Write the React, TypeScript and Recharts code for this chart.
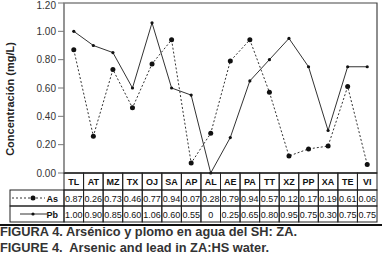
import React from 'react';
import { LineChart, Line, XAxis, YAxis, ReferenceArea } from 'recharts';

const categories = ['TL', 'AT', 'MZ', 'TX', 'OJ', 'SA', 'AP', 'AL', 'AE', 'PA', 'TT', 'XZ', 'PP', 'XA', 'TE', 'VI'];
const asValues = [0.87, 0.26, 0.73, 0.46, 0.77, 0.94, 0.07, 0.28, 0.79, 0.94, 0.57, 0.12, 0.17, 0.19, 0.61, 0.06];
const pbValues = [1.0, 0.9, 0.85, 0.6, 1.06, 0.6, 0.55, 0, 0.25, 0.65, 0.8, 0.95, 0.75, 0.3, 0.75, 0.75];
const yTicks = [0, 0.2, 0.4, 0.6, 0.8, 1.0, 1.2];
const seriesNames = ['As', 'Pb'];
const yLabel = 'Concentración (mg/L)';
const caption1 = 'FIGURA 4. Arsénico y plomo en agua del SH: ZA.';
const caption2 = 'FIGURE 4.  Arsenic and lead in ZA:HS water.';

const data = categories.map((c, i) => ({ name: c, As: asValues[i], Pb: pbValues[i] }));

const CHART_W = 382;
const CHART_H = 225;
const MARGIN = { top: 3, right: 5, left: 0, bottom: 3 };
const YAXIS_W = 64;
const XAXIS_H = 49;
const PLOT_W = CHART_W - MARGIN.left - MARGIN.right - YAXIS_W;
const PLOT_BOTTOM = CHART_H - MARGIN.bottom - XAXIS_H;
const ROW_H = [17, 16, 16];
const LEG_LEFT = 10;
const FONT = 'Arial, "Liberation Sans", sans-serif';

const fmt = (v: number) => (v === 0 ? '0' : v.toFixed(2));

const TableTick = (props: any) => {
  const { x, payload, index } = props;
  const n = categories.length;
  const bw = PLOT_W / n;
  const left = x - bw / 2;
  const top = PLOT_BOTTOM;
  const r1 = top + ROW_H[0];
  const r2 = r1 + ROW_H[1];
  const i = categories.indexOf(payload.value);
  const stroke = '#222';
  return (
    <g>
      <rect x={left} y={top} width={bw} height={ROW_H[0]} fill="none" stroke={stroke} strokeWidth={1} />
      <rect x={left} y={r1} width={bw} height={ROW_H[1]} fill="none" stroke={stroke} strokeWidth={1} />
      <rect x={left} y={r2} width={bw} height={ROW_H[2]} fill="none" stroke={stroke} strokeWidth={1} />
      <text x={x} y={top + 12} textAnchor="middle" fontSize={9} fontWeight="bold" fontFamily={FONT} fill="#111">
        {payload.value}
      </text>
      <text x={x} y={r1 + 11.5} textAnchor="middle" fontSize={9} fontFamily={FONT} fill="#111">
        {fmt(asValues[i])}
      </text>
      <text x={x} y={r2 + 11.5} textAnchor="middle" fontSize={9} fontFamily={FONT} fill="#111">
        {fmt(pbValues[i])}
      </text>
      {index === 0 && (
        <g>
          <rect x={LEG_LEFT} y={r1} width={left - LEG_LEFT} height={ROW_H[1]} fill="none" stroke={stroke} strokeWidth={1} />
          <rect x={LEG_LEFT} y={r2} width={left - LEG_LEFT} height={ROW_H[2]} fill="none" stroke={stroke} strokeWidth={1} />
          <line x1={12} x2={45} y1={r1 + 8} y2={r1 + 8} stroke="#333" strokeDasharray="2 2" />
          <circle cx={33} cy={r1 + 8} r={2.5} fill="#111" />
          <text x={58} y={r1 + 11.5} textAnchor="end" fontSize={9} fontWeight="bold" fontFamily={FONT} fill="#111">
            {seriesNames[0]}
          </text>
          <line x1={20} x2={47} y1={r2 + 8} y2={r2 + 8} stroke="#333" />
          <circle cx={33} cy={r2 + 8} r={1.6} fill="#111" />
          <text x={58} y={r2 + 11.5} textAnchor="end" fontSize={9} fontWeight="bold" fontFamily={FONT} fill="#111">
            {seriesNames[1]}
          </text>
        </g>
      )}
    </g>
  );
};

const YLabel = () => (
  <text
    x={14}
    y={99}
    transform="rotate(-90 14 99)"
    textAnchor="middle"
    fontSize={11}
    fontWeight="bold"
    fontFamily={FONT}
    fill="#222"
  >
    {yLabel}
  </text>
);

const captionStyle: React.CSSProperties = {
  position: 'absolute',
  left: 0,
  fontFamily: FONT,
  fontWeight: 'bold',
  fontSize: 12.8,
  lineHeight: '14px',
  color: '#333',
  whiteSpace: 'pre',
};

export default function App() {
  return (
    <div style={{ position: 'absolute', left: 0, top: 0, width: 382, height: 259, background: '#fff', overflow: 'hidden' }}>
      <LineChart width={CHART_W} height={CHART_H} data={data} margin={MARGIN}>
        <ReferenceArea y1={0} y2={1.2} fill="none" stroke="#444" strokeWidth={1.2} fillOpacity={0} />
        <XAxis
          dataKey="name"
          scale="band"
          height={XAXIS_H}
          tickLine={false}
          tickSize={0}
          tickMargin={0}
          axisLine={{ stroke: '#222' }}
          interval={0}
          tick={<TableTick />}
        />
        <YAxis
          width={YAXIS_W}
          domain={[0, 1.2]}
          ticks={yTicks}
          tickFormatter={(v: number) => v.toFixed(2)}
          tick={{ fontSize: 10, fill: '#333', fontFamily: FONT }}
          tickSize={6}
          tickMargin={2}
          tickLine={{ stroke: '#777' }}
          axisLine={{ stroke: '#999' }}
          label={<YLabel />}
        />
        <Line
          dataKey="As"
          stroke="#333"
          strokeWidth={1}
          strokeDasharray="2 2"
          dot={{ r: 2.5, fill: '#111', stroke: '#111', strokeWidth: 0, strokeDasharray: '' }}
          isAnimationActive={false}
        />
        <Line
          dataKey="Pb"
          stroke="#333"
          strokeWidth={1}
          dot={{ r: 1.6, fill: '#111', stroke: '#111', strokeWidth: 0 }}
          isAnimationActive={false}
        />
      </LineChart>
      <div style={{ position: 'absolute', left: 0, top: 224, width: 382, height: 0, borderTop: '2px solid #111' }} />
      <div style={{ ...captionStyle, top: 225 }}>{caption1}</div>
      <div style={{ ...captionStyle, top: 241 }}>{caption2}</div>
    </div>
  );
}
